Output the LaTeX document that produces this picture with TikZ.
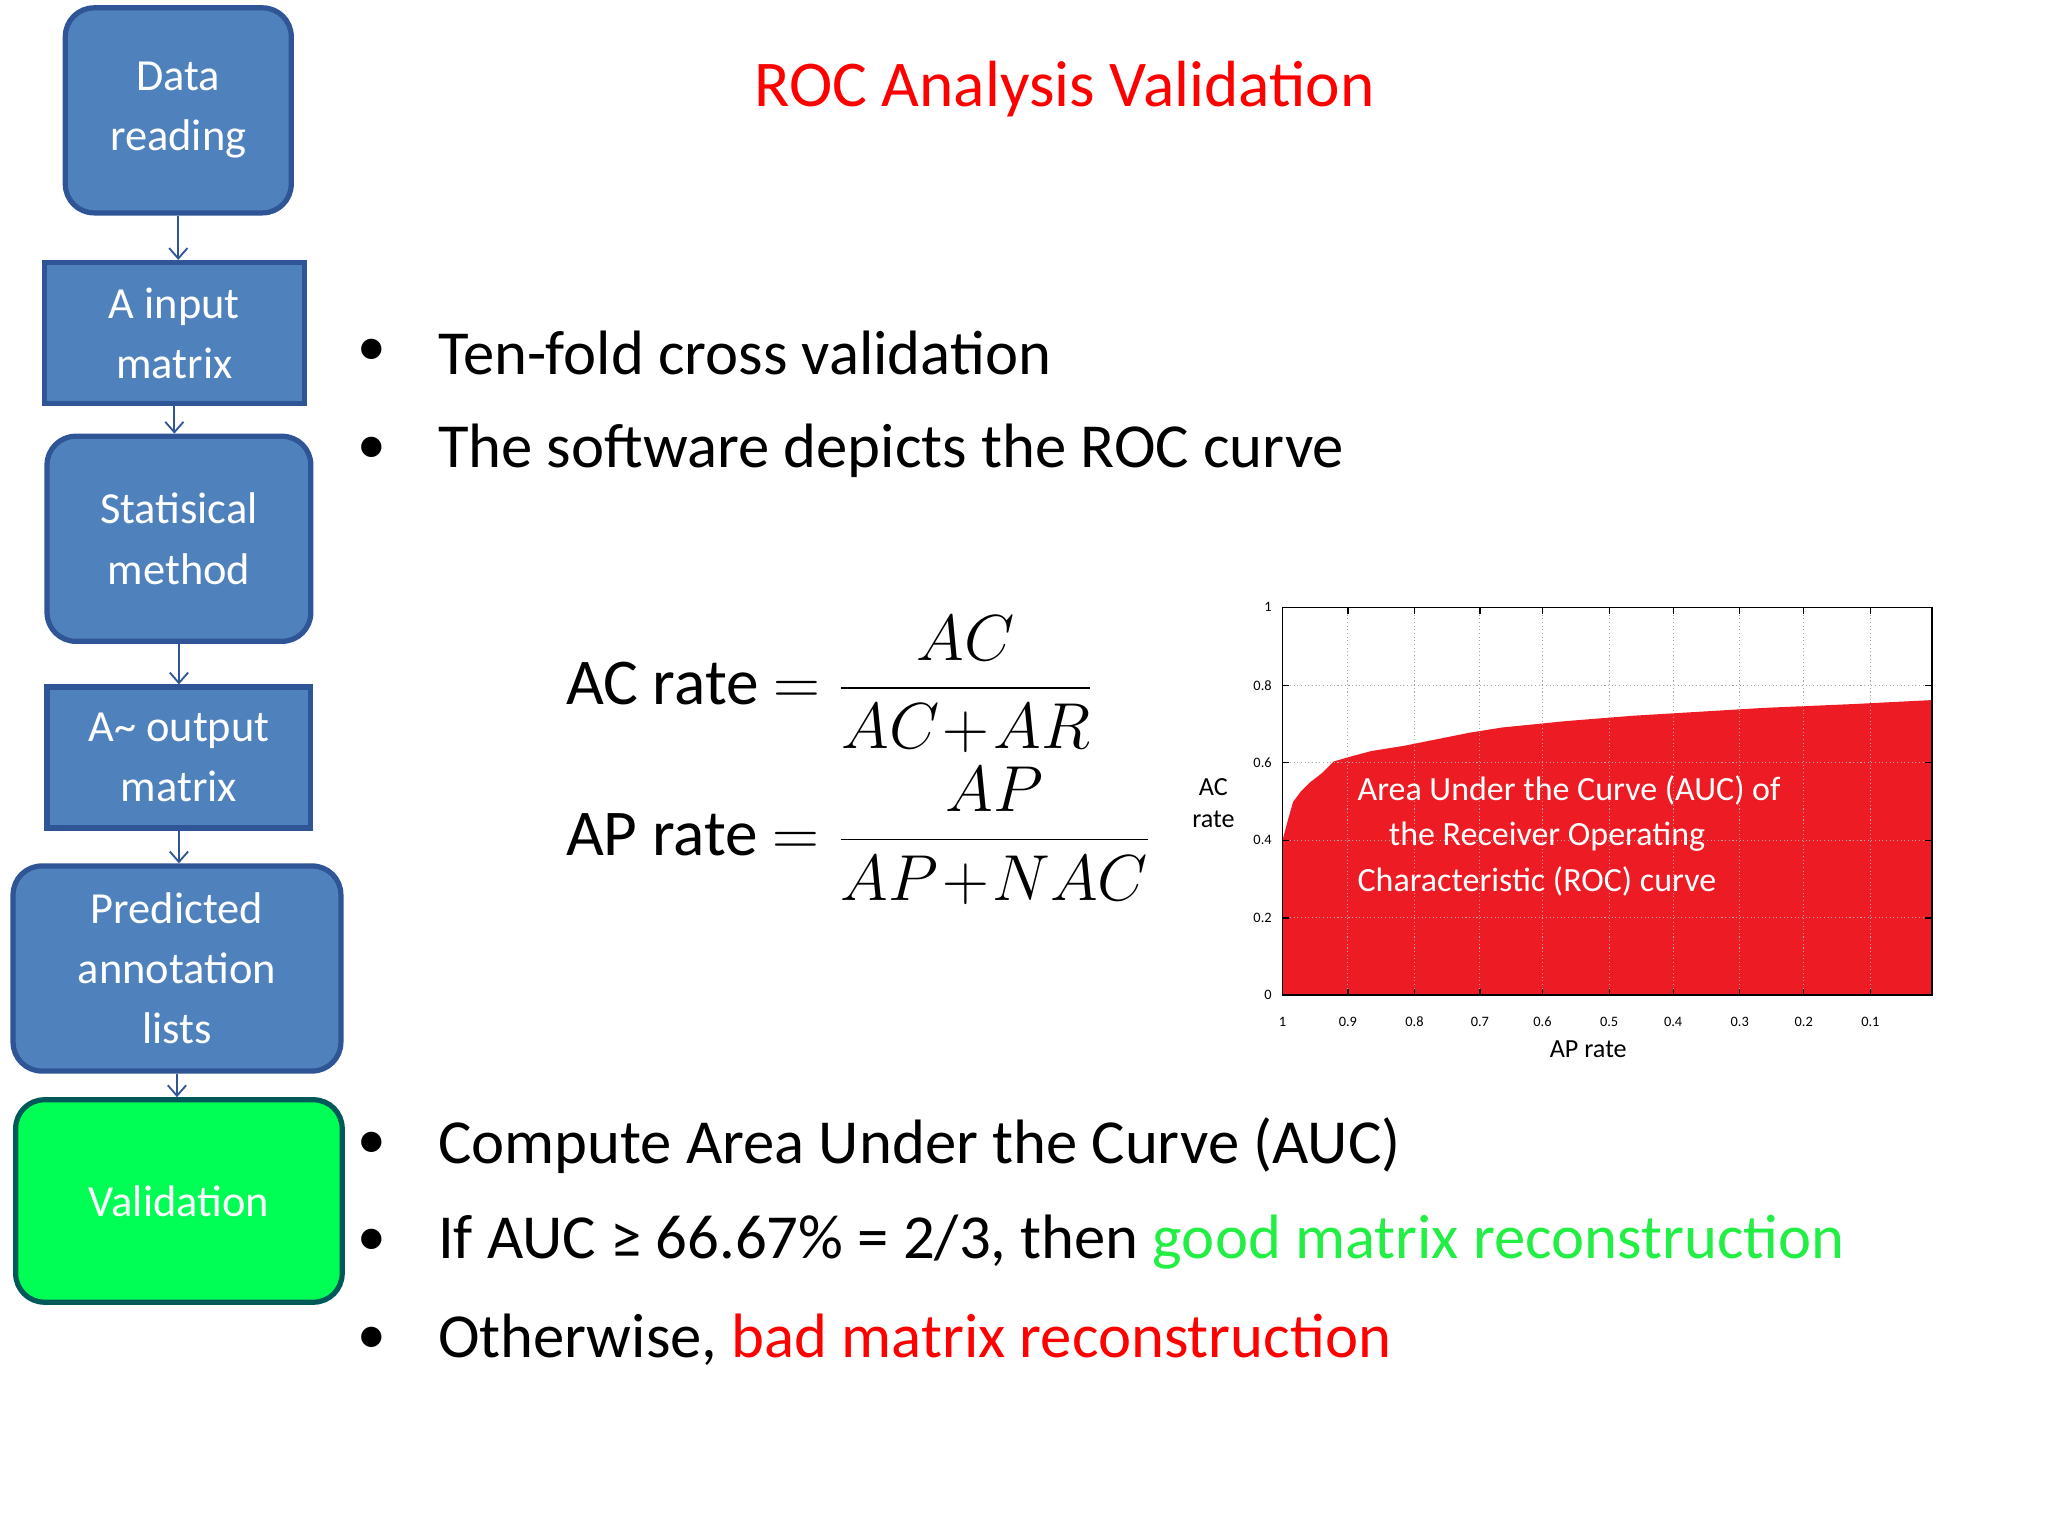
\documentclass[tikz,border=0pt]{standalone}
\usepackage{fontspec}
\setmainfont{Carlito}
\usetikzlibrary{arrows.meta}
\definecolor{boxblue}{HTML}{4F81BD}
\definecolor{boxedge}{HTML}{2F5597}
\definecolor{vgreen}{HTML}{00FF55}
\definecolor{aucred}{HTML}{ED1C24}
\definecolor{goodgreen}{HTML}{22EE44}
\tikzset{
  flow/.style={draw=boxedge,line width=2pt,fill=boxblue,text=white,align=center,font=\fontsize{17}{23}\selectfont,inner sep=0pt},
  rbox/.style={flow,rounded corners=11pt},
  arr/.style={draw=boxedge,line width=0.7pt,-{Straight Barb[length=4pt,width=7pt]}},
  bul/.style={anchor=west,font=\fontsize{24}{28}\selectfont,inner sep=0pt},
  tick/.style={font=\fontsize{5.5}{6}\selectfont,inner sep=1pt},
  grid/.style={draw=gray!70,densely dotted,line width=0.4pt}
}
\begin{document}
\begin{tikzpicture}[x=0.5pt,y=-0.5pt]
\useasboundingbox (0,0) rectangle (1568,1176);
% flowchart
\node[rbox,minimum width=86.5pt,minimum height=78.5pt] (n1) at (136.5,84.5) {Data\\reading};
\node[flow,minimum width=99.5pt,minimum height=54pt] (n2) at (133.5,255) {A input\\matrix};
\node[rbox,minimum width=101pt,minimum height=78.5pt] (n3) at (137,412.5) {Statisical\\method};
\node[flow,minimum width=101pt,minimum height=54pt] (n4) at (137,580) {A\textasciitilde{} output\\matrix};
\node[rbox,minimum width=125.5pt,minimum height=78.5pt] (n5) at (135.5,741.5) {Predicted\\annotation\\lists};
\node[rbox,fill=vgreen,draw=teal!70!black,minimum width=125pt,minimum height=77.5pt] (n6) at (137,919.5) {Validation};
\draw[arr] (n1.south) -- (n1.south |- n2.north);
\draw[arr] (n2.south) -- (n2.south |- n3.north);
\draw[arr] (n3.south) -- (n3.south |- n4.north);
\draw[arr] (n4.south) -- (n4.south |- n5.north);
\draw[arr] (n5.south) -- (n5.south |- n6.north);
% title
\node[text=red,font=\fontsize{25}{30}\selectfont] (title) at (815,68) {ROC Analysis Validation};
% bullets
\foreach \yy/\nm in {270/b1,345/b2,877/b3,951/b4,1026/b5}{
  \node[font=\fontsize{22}{26}\selectfont] (\nm d) at (285,\yy) {•};
}
\node[bul] (b1) at (335,270) {Ten-fold cross validation};
\node[bul] (b2) at (335,345) {The software depicts the ROC curve};
\node[bul] (b3) at (335,877) {Compute Area Under the Curve (AUC)};
\node[bul] (b4) at (335,951) {If AUC ≥ 66.67\% = 2/3, then \textcolor{goodgreen}{good matrix reconstruction}};
\node[bul] (b5) at (335,1026) {Otherwise, \textcolor{red}{bad matrix reconstruction}};
% formulas
\node[anchor=west,inner sep=0pt,font=\fontsize{25}{30}\selectfont] (f1) at (433,524) {AC rate $=\displaystyle\frac{AC}{AC\!+\!AR}$};
\node[anchor=west,inner sep=0pt,font=\fontsize{25}{30}\selectfont] (f2) at (433,640) {AP rate $=\displaystyle\frac{AP}{AP\!+\!NAC}$};
% plot
\fill[aucred] (982,762) -- (982,643) -- (986,628) -- (990,614) -- (996,606) -- (1003,599) -- (1012,592) -- (1021,583) -- (1035,579) -- (1050,575) -- (1075,571) -- (1100,566) -- (1125,561) -- (1150,557) -- (1200,552) -- (1250,548) -- (1300,545) -- (1350,542) -- (1420,539) -- (1479,536) -- (1479,762) -- cycle;
\foreach \xx in {1032,1083,1133,1181,1232,1281,1332,1381,1432}{
  \draw[grid] (\xx,465) -- (\xx,762);
  \draw[line width=0.5pt] (\xx,762) -- (\xx,757);
  \draw[line width=0.5pt] (\xx,465) -- (\xx,470);
}
\foreach \yy in {524.6,584,643.4,702.8}{
  \draw[grid] (982,\yy) -- (1479,\yy);
  \draw[line width=0.5pt] (982,\yy) -- (987,\yy);
  \draw[line width=0.5pt] (1479,\yy) -- (1474,\yy);
}
\draw[line width=0.6pt] (982,465) rectangle (1479,762);
\foreach \yy/\v in {465/1,524.6/0.8,584/0.6,643.4/0.4,702.8/0.2,762/0}{
  \node[tick,anchor=east] at (976,\yy) {\v};
}
\foreach \xx/\v in {982/1,1032/0.9,1083/0.8,1133/0.7,1181/0.6,1232/0.5,1281/0.4,1332/0.3,1381/0.2,1432/0.1}{
  \node[tick] at (\xx,782) {\v};
}
\node[align=center,font=\fontsize{10}{12}\selectfont] (acl) at (929,615) {AC\\rate};
\node[font=\fontsize{10}{12}\selectfont] (apl) at (1216,803) {AP rate};
\node[anchor=west,text=white,align=left,font=\fontsize{13}{17.5}\selectfont,inner sep=0pt] (auc) at (1039,640) {Area Under the Curve (AUC) of\\\hspace*{12pt}the Receiver Operating\\Characteristic (ROC) curve};
\end{tikzpicture}
\end{document}
